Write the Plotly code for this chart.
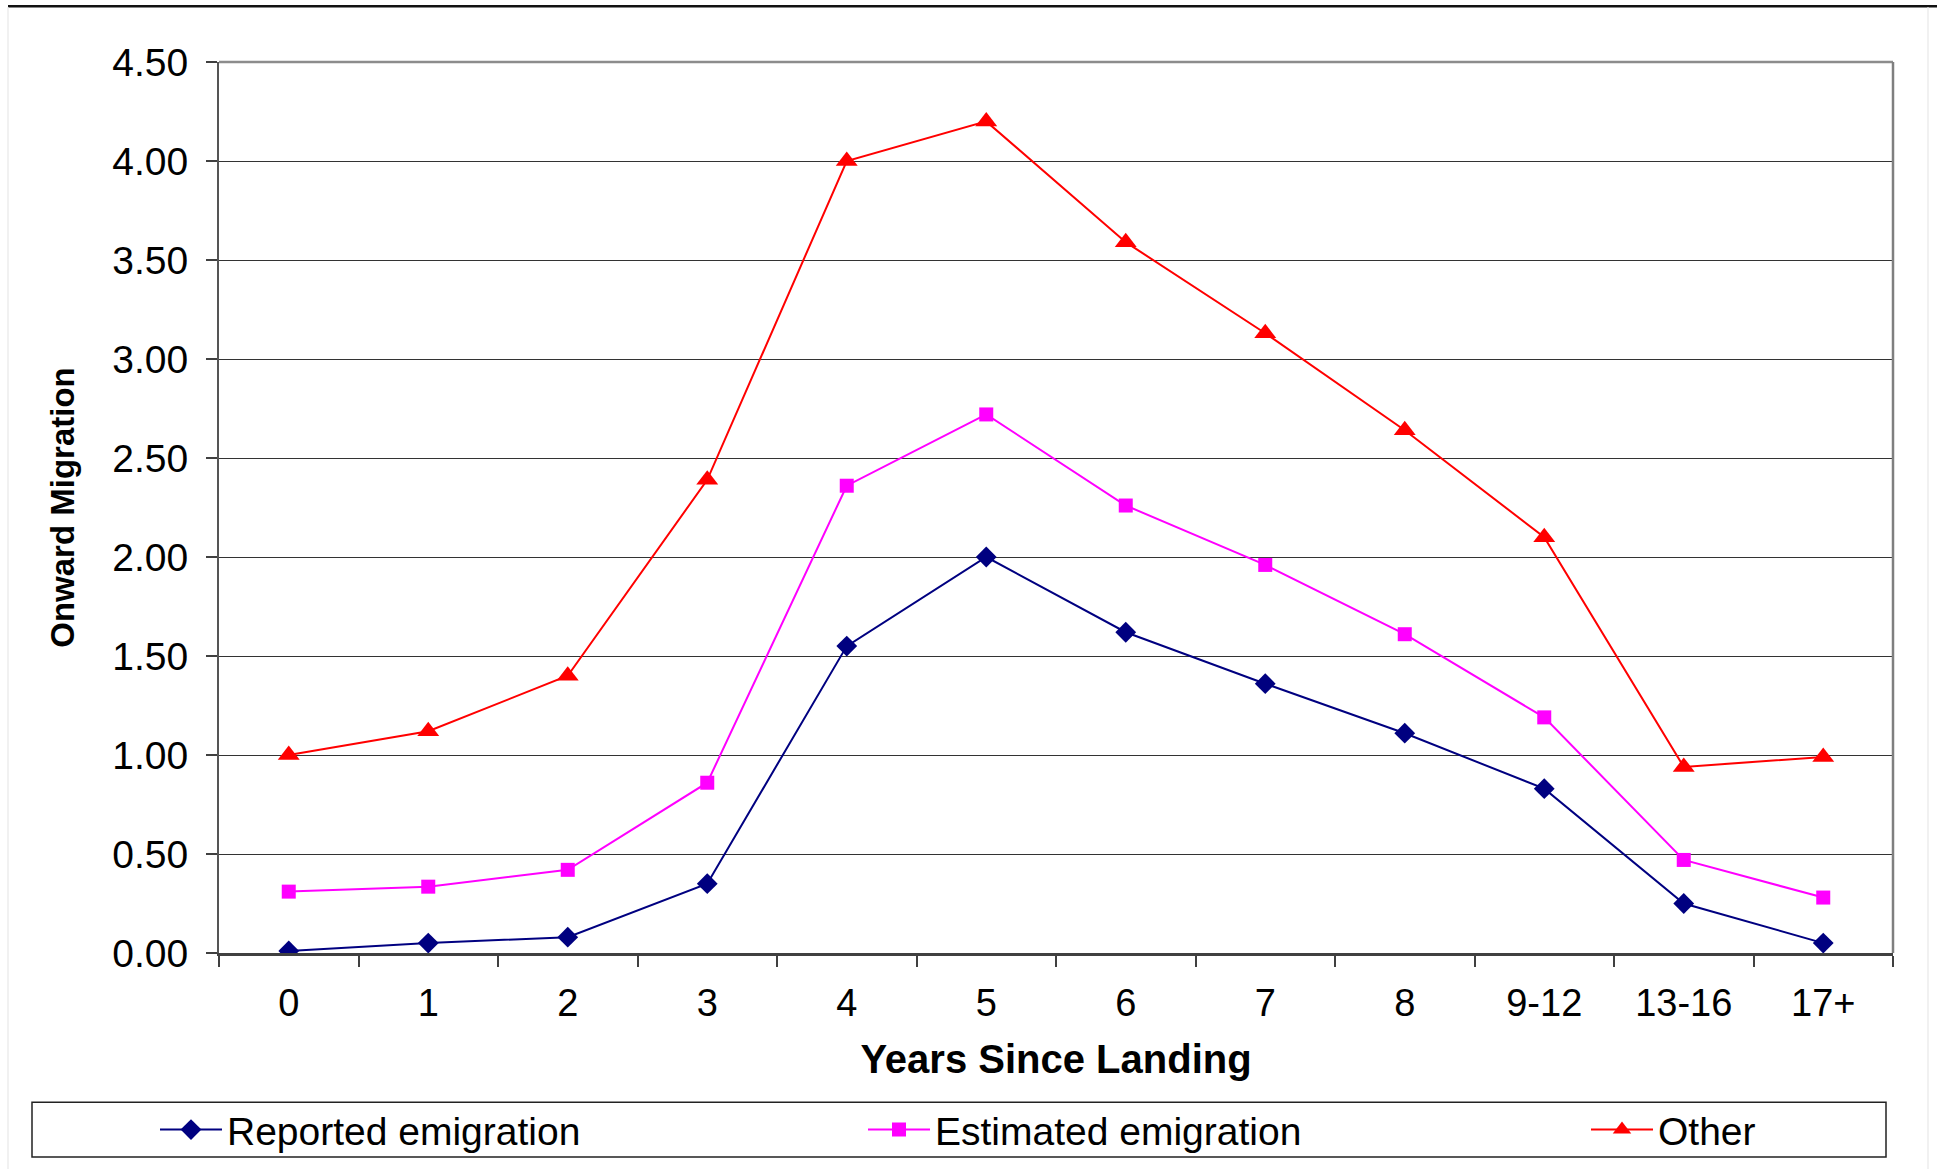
import plotly.graph_objects as go

categories = ["0", "1", "2", "3", "4", "5", "6", "7", "8", "9-12", "13-16", "17+"]
reported = [0.01, 0.05, 0.08, 0.35, 1.55, 2.00, 1.62, 1.36, 1.11, 0.83, 0.25, 0.05]
estimated = [0.31, 0.335, 0.42, 0.86, 2.36, 2.72, 2.26, 1.96, 1.61, 1.19, 0.47, 0.28]
other = [1.00, 1.12, 1.40, 2.39, 4.00, 4.20, 3.59, 3.13, 2.64, 2.10, 0.94, 0.99]
y_ticks = [0, 0.5, 1.0, 1.5, 2.0, 2.5, 3.0, 3.5, 4.0, 4.5]

FONT = "Liberation Sans, Arial, sans-serif"

# plot-area pixel geometry
W, H = 1937, 1174
L, R, T, B = 219, 1893, 62, 957
PW, PH = R - L, B - T


def px(x):
    return (x - L) / PW


def py(y):
    return (B - y) / PH


fig = go.Figure()
fig.add_trace(go.Scatter(
    x=categories, y=reported, name="Reported emigration", mode="lines+markers",
    line=dict(color="#000080", width=2),
    marker=dict(symbol="diamond", size=16, color="#000080"), legend="legend"))
fig.add_trace(go.Scatter(
    x=categories, y=estimated, name="Estimated emigration", mode="lines+markers",
    line=dict(color="#FF00FF", width=2),
    marker=dict(symbol="square", size=14, color="#FF00FF"), legend="legend2"))
fig.add_trace(go.Scatter(
    x=categories, y=other, name="Other", mode="lines+markers",
    line=dict(color="#FF0000", width=2),
    marker=dict(symbol="triangle-up", size=19, color="#FF0000"), legend="legend3"))

shapes = [
    # plot frame (top & right in grey)
    dict(type="line", xref="paper", yref="paper", x0=0, x1=1, y0=1, y1=1,
         line=dict(color="#8c8c8c", width=2.5)),
    dict(type="line", xref="paper", yref="paper", x0=1, x1=1, y0=0, y1=1,
         line=dict(color="#7f7f7f", width=2.5)),
    # outer chart frame
    dict(type="line", xref="paper", yref="paper", x0=px(8), x1=px(1937), y0=py(6), y1=py(6),
         line=dict(color="#111111", width=2.5)),
    dict(type="line", xref="paper", yref="paper", x0=px(8), x1=px(8), y0=py(7), y1=py(1174),
         line=dict(color="#ececec", width=1.5)),
    dict(type="line", xref="paper", yref="paper", x0=px(1928), x1=px(1928), y0=py(7), y1=py(1174),
         line=dict(color="#ececec", width=1.5)),
    # legend box
    dict(type="rect", xref="paper", yref="paper", x0=px(32), x1=px(1886), y0=py(1107), y1=py(1162),
         line=dict(color="#222222", width=1.5), fillcolor="rgba(0,0,0,0)"),
]


def legend_at(xpix):
    return dict(
        orientation="h",
        x=px(xpix), xanchor="left",
        y=py(1134.5), yanchor="middle",
        font=dict(family=FONT, size=39, color="black"),
        bgcolor="rgba(0,0,0,0)",
        borderwidth=0,
        itemwidth=62,
    )


fig.update_layout(
    width=W, height=H,
    autosize=False,
    margin=dict(l=L, r=W - R, t=T, b=H - B, pad=0),
    paper_bgcolor="white",
    plot_bgcolor="white",
    font=dict(family=FONT, color="black"),
    shapes=shapes,
    showlegend=True,
    legend=legend_at(155),
    legend2=legend_at(863),
    legend3=legend_at(1586),
    xaxis=dict(
        type="category",
        categoryorder="array", categoryarray=categories,
        range=[-0.5, len(categories) - 0.5],
        tickson="boundaries",
        ticks="outside", ticklen=11, tickwidth=1.5, tickcolor="#404040",
        showline=True, linecolor="#404040", linewidth=2.5,
        showgrid=False,
        tickfont=dict(family=FONT, size=38, color="black"),
        ticklabelstandoff=15,
        title=dict(text="<b>Years Since Landing</b>",
                   font=dict(family=FONT, size=40, color="black"), standoff=22),
        automargin=False,
        fixedrange=True,
    ),
    yaxis=dict(
        range=[0, 4.5],
        tickvals=y_ticks,
        tickformat=".2f",
        ticks="outside", ticklen=11, tickwidth=1.5, tickcolor="#404040",
        showline=True, linecolor="#555555", linewidth=2,
        showgrid=True, gridcolor="#333333", gridwidth=1.3,
        zeroline=False,
        tickfont=dict(family=FONT, size=39, color="black"),
        ticklabelstandoff=10,
        title=dict(text="<b>Onward Migration</b>",
                   font=dict(family=FONT, size=33, color="black"), standoff=28),
        automargin=False,
        fixedrange=True,
    ),
)

fig.write_html(
    "out.html",
    config={"displayModeBar": False},
    post_script="document.body.style.margin='0';document.body.style.padding='0';",
)
